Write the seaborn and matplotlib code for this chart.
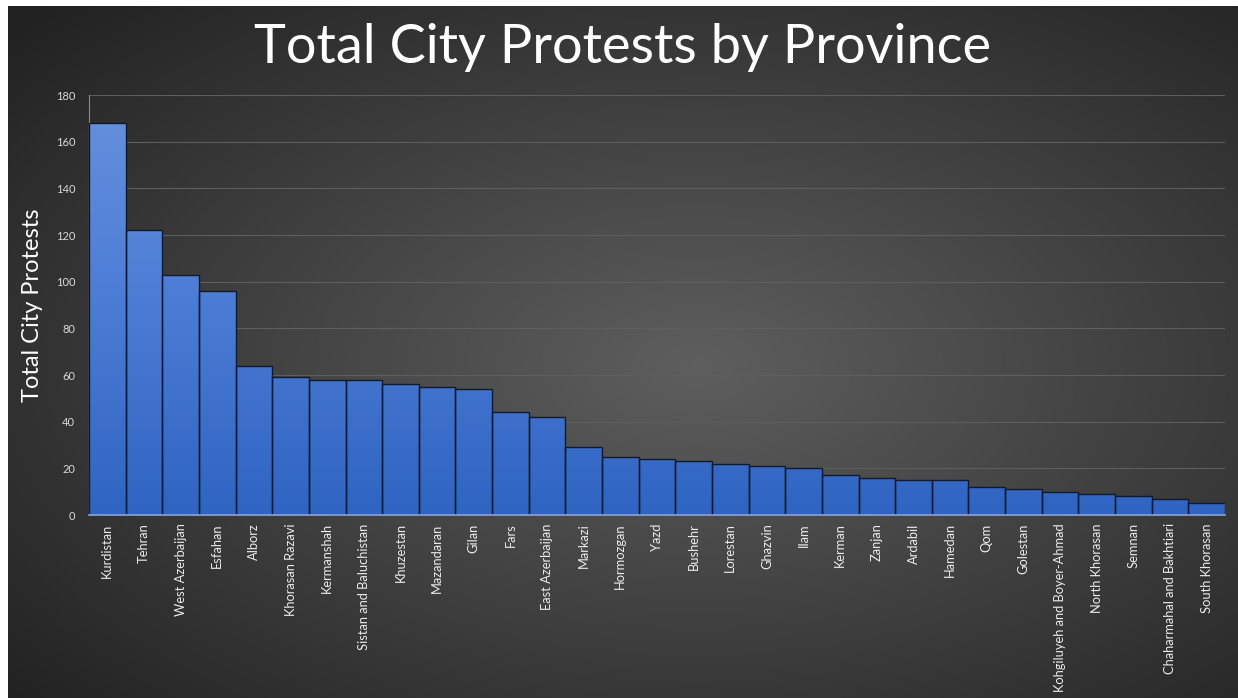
import numpy as np
import pandas as pd
import matplotlib
matplotlib.use("Agg")
import matplotlib.pyplot as plt
import seaborn as sns

# province totals
provinces = ["Kurdistan", "Tehran", "West Azerbaijan", "Esfahan", "Alborz",
             "Khorasan Razavi", "Kermanshah", "Sistan and Baluchistan", "Khuzestan",
             "Mazandaran", "Gilan", "Fars", "East Azerbaijan", "Markazi", "Hormozgan",
             "Yazd", "Bushehr", "Lorestan", "Ghazvin", "Ilam", "Kerman", "Zanjan",
             "Ardabil", "Hamedan", "Qom", "Golestan", "Kohgiluyeh and Boyer-Ahmad",
             "North Khorasan", "Semnan", "Chaharmahal and Bakhtiari", "South Khorasan"]
protests = [168, 122, 103, 96, 64, 59, 58, 58, 56, 55, 54, 44, 42, 29, 25,
            24, 23, 22, 21, 20, 17, 16, 15, 15, 12, 11, 10, 9, 8, 7, 5]
y_ticks = [0, 20, 40, 60, 80, 100, 120, 140, 160, 180]

df = pd.DataFrame({"province": provinces, "protests": protests})

sns.set_theme(style="dark")
plt.rcParams["font.family"] = ["Lato", "DejaVu Sans"]

W, H = 1238, 698
fig = plt.figure(figsize=(W / 100, H / 100), dpi=100, facecolor="white")

# radial gradient background
bg = fig.add_axes([8 / W, 0, 1 - 8 / W, 1 - 6 / H], zorder=-10)
yy, xx = np.mgrid[0:1:300j, 0:1:500j]
r = np.sqrt(((xx - 0.56) / 0.75) ** 2 + ((yy - 0.52) / 0.75) ** 2)
shade = np.clip(0.37 - 0.24 * r, 0.13, 0.37)
bg.imshow(np.dstack([shade, shade, shade]), aspect="auto", extent=[0, 1, 0, 1])
bg.set_axis_off()

ax = fig.add_axes([89 / W, 1 - 515 / H, 1136 / W, 420 / H])
ax.patch.set_alpha(0)

sns.barplot(data=df, x="province", y="protests", ax=ax, width=1.0,
            color="#3a6bc9", edgecolor="#0d1a33", linewidth=1.0, zorder=3)

# vertical blue gradient clipped to each bar
grad = np.linspace(0, 1, 256).reshape(-1, 1)
cmap = matplotlib.colors.LinearSegmentedColormap.from_list(
    "bluegrad", ["#3064c2", "#4b7cd5", "#6691dd"])
for p in ax.patches:
    im = ax.imshow(grad, cmap=cmap, aspect="auto", origin="lower",
                   extent=[-0.5, len(provinces) - 0.5, 0, 180], zorder=2.5)
    im.set_clip_path(p)
    p.set_facecolor("none")
ax.set_xlim(-0.5, len(provinces) - 0.5)
ax.set_ylim(0, 180)

ax.set_yticks(y_ticks)
ax.tick_params(axis="y", colors="#d9d9d9", labelsize=8, length=0, pad=10)
ax.tick_params(axis="x", colors="#ececec", labelsize=9.3, length=0, pad=6)
plt.setp(ax.get_xticklabels(), rotation=90)
ax.grid(axis="y", color="#5e5e5e", linewidth=0.8, zorder=0)
ax.grid(axis="x", visible=False)
for s in ["top", "right"]:
    ax.spines[s].set_visible(False)
ax.spines["left"].set_color("#8a8a8a")
ax.spines["left"].set_linewidth(0.8)
ax.spines["bottom"].set_color("#8ea6cf")
ax.spines["bottom"].set_linewidth(1.2)
ax.spines["bottom"].set_zorder(4)

ax.set_xlabel("")
ax.set_ylabel("Total City Protests", color="white", fontsize=17, labelpad=9)

fig.text(0.503, 1 - 47 / H, "Total City Protests by Province", color="white",
         fontsize=39, ha="center", va="center")

fig.savefig("out.png", dpi=100, facecolor=fig.get_facecolor())
